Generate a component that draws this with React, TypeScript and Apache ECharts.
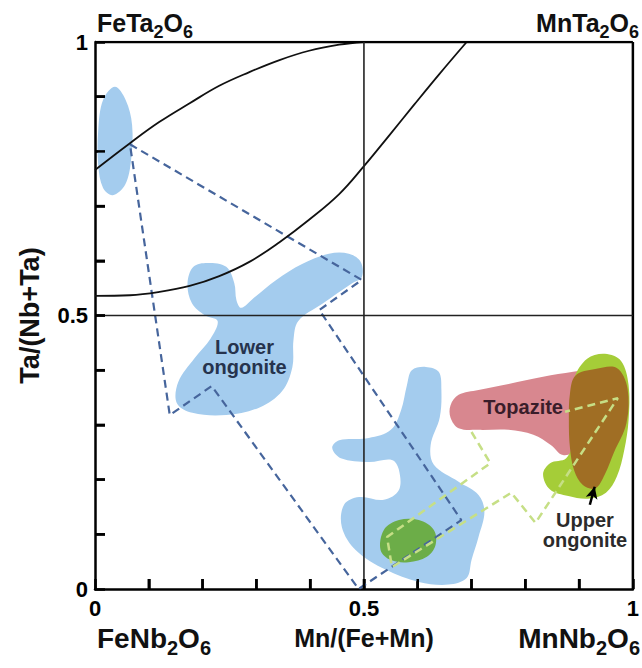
import React, { useEffect, useRef } from "react";
import * as echarts from "echarts";

const FAMILY = "'Liberation Sans', Arial, sans-serif";

// axis tick values and labelled ticks
const tickValues = [0.1, 0.2, 0.3, 0.4, 0.5, 0.6, 0.7, 0.8, 0.9];
const tickLabelValues = [0, 0.5, 1];

// boundary curves (x, y)
const curveUpper = [
  [0, 0.766], [0.065, 0.815], [0.12, 0.854], [0.176, 0.888], [0.231, 0.92], [0.287, 0.945],
  [0.343, 0.967], [0.398, 0.984], [0.454, 0.995], [0.5, 1.0],
];
const curveLower = [
  [0, 0.536], [0.065, 0.537], [0.12, 0.543], [0.176, 0.554], [0.231, 0.572], [0.287, 0.598],
  [0.343, 0.634], [0.398, 0.675], [0.454, 0.722], [0.5, 0.773], [0.546, 0.828], [0.593, 0.885],
  [0.639, 0.94], [0.691, 1.0],
];
const midVertical = [[0.5, 0], [0.5, 1]];
const midHorizontal = [[0, 0.5], [1, 0.5]];
const frameTop = [[0, 1], [1, 1]];
const frameRight = [[1, 0], [1, 1]];

// dashed outlines
const dashedBlue = [
  [0.065, 0.813], [0.496, 0.565], [0.417, 0.51], [0.681, 0.126], [0.49, 0.0],
  [0.217, 0.371], [0.139, 0.318], [0.065, 0.813],
];
const dashedGreen = [
  [0.7, 0.287], [0.735, 0.23], [0.543, 0.095], [0.552, 0.04], [0.774, 0.176],
  [0.819, 0.121], [0.972, 0.349], [0.874, 0.324],
];

// filled fields
const blueTopLeft = [
  [0.037, 0.918], [0.057, 0.894], [0.069, 0.848], [0.067, 0.784], [0.056, 0.739], [0.033, 0.72],
  [0.015, 0.733], [0.006, 0.775], [0.006, 0.839], [0.015, 0.894],
];
const blueLowerOngonite = [
  [0.209, 0.596], [0.244, 0.589], [0.259, 0.559], [0.263, 0.528], [0.272, 0.514], [0.295, 0.532],
  [0.337, 0.565], [0.385, 0.594], [0.435, 0.613], [0.472, 0.613], [0.494, 0.598], [0.496, 0.57],
  [0.478, 0.559], [0.422, 0.521], [0.378, 0.49], [0.369, 0.455], [0.367, 0.406], [0.348, 0.362],
  [0.306, 0.332], [0.244, 0.318], [0.181, 0.322], [0.152, 0.34], [0.155, 0.379], [0.185, 0.422],
  [0.215, 0.458], [0.228, 0.49], [0.205, 0.5], [0.18, 0.523], [0.172, 0.559], [0.183, 0.589],
];
const blueMiddle = [
  [0.615, 0.406], [0.639, 0.397], [0.644, 0.364], [0.641, 0.314], [0.624, 0.263], [0.63, 0.227],
  [0.676, 0.196], [0.713, 0.172], [0.724, 0.141], [0.713, 0.095], [0.7, 0.053], [0.691, 0.02],
  [0.657, 0.008], [0.602, 0.013], [0.541, 0.035], [0.485, 0.071], [0.459, 0.113], [0.463, 0.154],
  [0.491, 0.168], [0.537, 0.163], [0.565, 0.181], [0.565, 0.218], [0.552, 0.236], [0.509, 0.232],
  [0.457, 0.239], [0.441, 0.258], [0.454, 0.272], [0.509, 0.276], [0.55, 0.291], [0.569, 0.327],
  [0.58, 0.373], [0.589, 0.4],
];
const greenDark = [
  [0.537, 0.108], [0.565, 0.126], [0.602, 0.126], [0.63, 0.108], [0.633, 0.08], [0.617, 0.059],
  [0.583, 0.049], [0.55, 0.053], [0.531, 0.071],
];
const pinkTopazite = [
  [0.661, 0.336], [0.676, 0.355], [0.713, 0.364], [0.769, 0.375], [0.833, 0.388], [0.889, 0.397],
  [0.935, 0.404], [0.963, 0.397], [0.963, 0.346], [0.935, 0.291], [0.898, 0.254], [0.87, 0.245],
  [0.848, 0.263], [0.815, 0.282], [0.769, 0.291], [0.713, 0.291], [0.676, 0.294], [0.661, 0.313],
];
const limeUpper = [
  [0.948, 0.43], [0.978, 0.417], [0.992, 0.373], [0.992, 0.309], [0.984, 0.254], [0.97, 0.205],
  [0.95, 0.176], [0.917, 0.165], [0.88, 0.17], [0.846, 0.182], [0.833, 0.21], [0.846, 0.23],
  [0.876, 0.239], [0.889, 0.272], [0.885, 0.336], [0.891, 0.386], [0.915, 0.421],
];
const brownUpper = [
  [0.893, 0.39], [0.93, 0.402], [0.97, 0.404], [0.99, 0.367], [0.988, 0.303], [0.965, 0.25],
  [0.948, 0.21], [0.93, 0.184], [0.907, 0.19], [0.891, 0.216], [0.883, 0.258], [0.881, 0.309],
  [0.883, 0.357],
];

const arrowTail = [0.92, 0.154];
const arrowTip = [0.929, 0.187];

// field labels
const fieldLabels = [
  { text: "Lower\nongonite", pos: [0.278, 0.424], color: "#26334d" },
  { text: "Topazite", pos: [0.796, 0.333], color: "#3a1d2a" },
  { text: "Upper\nongonite", pos: [0.911, 0.108], color: "#2b2b2b" },
];

// corner end-member labels: [text, isSubscript]
const cornerTL = [["FeTa", 0], ["2", 1], ["O", 0], ["6", 1]];
const cornerTR = [["MnTa", 0], ["2", 1], ["O", 0], ["6", 1]];
const cornerBL = [["FeNb", 0], ["2", 1], ["O", 0], ["6", 1]];
const cornerBR = [["MnNb", 0], ["2", 1], ["O", 0], ["6", 1]];

function measure(text: string, font: string): number {
  const c = document.createElement("canvas").getContext("2d");
  if (!c) return text.length * 12;
  c.font = font;
  return c.measureText(text).width;
}

function chemText(parts: any[], x: number, y: number, anchor: "left" | "right", mainSize: number, subSize: number, drop: number) {
  const mainFont = `bold ${mainSize}px ${FAMILY}`;
  const subFont = `bold ${subSize}px ${FAMILY}`;
  const widths = parts.map(([t, s]) => measure(t, s ? subFont : mainFont));
  const total = widths.reduce((a, b) => a + b, 0);
  let cx = anchor === "left" ? x : x - total;
  return parts.map(([t, s], i) => {
    const el = {
      type: "text",
      x: cx,
      y: s ? y + drop : y,
      silent: true,
      z: 10,
      style: {
        text: t,
        font: s ? subFont : mainFont,
        fill: "#111",
        align: "left",
        verticalAlign: "bottom",
      },
    };
    cx += widths[i];
    return el;
  });
}

function blobSeries(name: string, pts: number[][], color: string) {
  return {
    name,
    type: "custom",
    coordinateSystem: "cartesian2d",
    silent: true,
    data: pts,
    encode: { x: 0, y: 1 },
    renderItem: (params: any, api: any) => {
      if (params.dataIndex !== 0) return null;
      return {
        type: "polygon",
        shape: { points: pts.map((p) => api.coord(p)), smooth: 0.35 },
        style: { fill: color, stroke: "none" },
      };
    },
  };
}

function lineSeries(name: string, data: number[][], color: string, width: number, type: any, smooth: any, extra: any = {}) {
  return {
    name,
    type: "line",
    data,
    symbol: "none",
    showSymbol: false,
    smooth,
    silent: true,
    lineStyle: { color, width, type },
    ...extra,
  };
}

const labelFormatter = (v: number) => {
  const r = Math.round(v * 10) / 10;
  return tickLabelValues.includes(r) ? String(r) : "";
};

export default function App() {
  const ref = useRef<HTMLDivElement>(null);

  useEffect(() => {
    if (!ref.current) return;
    const chart = echarts.init(ref.current, null, { renderer: "svg" });

    const axisLabelStyle = {
      formatter: labelFormatter,
      fontSize: 22,
      fontWeight: "bold",
      fontFamily: FAMILY,
      color: "#000",
      showMinLabel: true,
      showMaxLabel: true,
    };

    const cornerTexts = [
      ...chemText(cornerTL, 97, 35, "left", 25, 18, 6),
      ...chemText(cornerTR, 639, 35, "right", 25, 18, 6),
      ...chemText(cornerBL, 97, 652, "left", 28, 20, 6),
      ...chemText(cornerBR, 640, 652, "right", 28, 20, 6),
    ];

    const option: any = {
      animation: false,
      grid: { left: 95, right: 7, top: 42, bottom: 79 },
      xAxis: {
        type: "value",
        min: 0,
        max: 1,
        interval: 0.1,
        axisLine: { show: true, lineStyle: { color: "#000", width: 2.5 } },
        axisTick: { show: true, inside: true, length: 10, lineStyle: { color: "#000", width: 2.5 } },
        splitLine: { show: false },
        axisLabel: { ...axisLabelStyle, margin: 8 },
        name: "Mn/(Fe+Mn)",
        nameLocation: "middle",
        nameGap: 36,
        nameTextStyle: { fontSize: 25, fontWeight: "bold", fontFamily: FAMILY, color: "#111" },
      },
      yAxis: {
        type: "value",
        min: 0,
        max: 1,
        interval: 0.1,
        axisLine: { show: true, lineStyle: { color: "#000", width: 2.5 } },
        axisTick: { show: true, inside: true, length: 10, lineStyle: { color: "#000", width: 2.5 } },
        splitLine: { show: false },
        axisLabel: { ...axisLabelStyle, margin: 7 },
        name: "Ta/(Nb+Ta)",
        nameLocation: "middle",
        nameRotate: 90,
        nameGap: 52,
        nameTextStyle: { fontSize: 27, fontWeight: "bold", fontFamily: FAMILY, color: "#111" },
      },
      series: [
        blobSeries("blueTopLeft", blueTopLeft, "#a4ccee"),
        blobSeries("blueLowerOngonite", blueLowerOngonite, "#a4ccee"),
        blobSeries("blueMiddle", blueMiddle, "#a4ccee"),
        blobSeries("greenDark", greenDark, "#6cad48"),
        blobSeries("pinkTopazite", pinkTopazite, "#d8878f"),
        blobSeries("limeUpper", limeUpper, "#a5cd38"),
        blobSeries("brownUpper", brownUpper, "#a06e24"),
        lineSeries("dashedBlue", dashedBlue, "#46659c", 2.2, [8, 5], false),
        lineSeries("dashedGreen", dashedGreen, "#c6df86", 2.5, [8, 5], false),
        lineSeries("curveUpper", curveUpper, "#111", 1.8, "solid", 0.4),
        lineSeries("curveLower", curveLower, "#111", 1.8, "solid", 0.4),
        lineSeries("frameTop", frameTop, "#000", 2.5, "solid", false),
        lineSeries("frameRight", frameRight, "#000", 2.5, "solid", false),
        lineSeries("midHorizontal", midHorizontal, "#222", 1.6, "solid", false),
        lineSeries("midVertical", midVertical, "#222", 1.6, "solid", false, {
          markLine: {
            silent: true,
            symbol: ["none", "arrow"],
            symbolSize: [9, 12],
            label: { show: false },
            lineStyle: { color: "#000", width: 2.5, type: "solid" },
            data: [[{ coord: arrowTail }, { coord: arrowTip }]],
          },
        }),
        {
          name: "fieldLabels",
          type: "custom",
          coordinateSystem: "cartesian2d",
          silent: true,
          data: fieldLabels.map((l) => l.pos),
          encode: { x: 0, y: 1 },
          renderItem: (params: any, api: any) => {
            const l = fieldLabels[params.dataIndex];
            const p = api.coord(l.pos);
            return {
              type: "text",
              x: p[0],
              y: p[1],
              style: {
                text: l.text,
                font: `bold 20px ${FAMILY}`,
                fill: l.color,
                align: "center",
                verticalAlign: "middle",
                lineHeight: 20,
              },
            };
          },
        },
      ],
      graphic: { elements: cornerTexts },
    };

    chart.setOption(option);

    // inside tick marks placed through the chart's own axis scales
    const tickRects: any[] = [];
    tickValues.forEach((v) => {
      const px = chart.convertToPixel({ gridIndex: 0 }, [v, 0]) as number[];
      const py = chart.convertToPixel({ gridIndex: 0 }, [0, v]) as number[];
      if (px && py) {
        tickRects.push({
          type: "rect",
          silent: true,
          z: 100,
          shape: { x: px[0] - 1.25, y: px[1] - 10, width: 2.5, height: 10 },
          style: { fill: "#000" },
        });
        tickRects.push({
          type: "rect",
          silent: true,
          z: 100,
          shape: { x: py[0], y: py[1] - 1.25, width: 10, height: 2.5 },
          style: { fill: "#000" },
        });
      }
    });
    chart.setOption({ graphic: { elements: [...cornerTexts, ...tickRects] } }, { replaceMerge: ["graphic"] });

    return () => chart.dispose();
  }, []);

  return (
    <div
      ref={ref}
      style={{ position: "absolute", left: 0, top: 0, width: 642, height: 668, background: "#fff" }}
    />
  );
}
